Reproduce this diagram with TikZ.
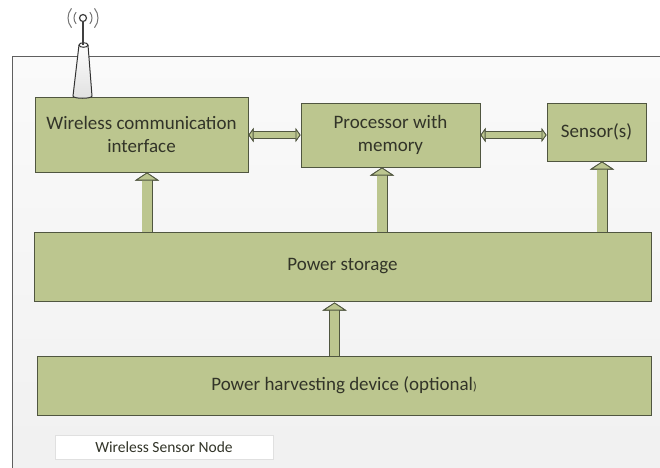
\documentclass[tikz,border=0pt]{standalone}
\usepackage{fontspec}
\setmainfont{Carlito}
\usetikzlibrary{arrows.meta}

\definecolor{boxfill}{RGB}{188,198,143}
\definecolor{boxline}{RGB}{80,86,64}
\definecolor{boxtext}{RGB}{50,52,40}
\definecolor{frametop}{RGB}{250,250,250}
\definecolor{framebot}{RGB}{240,240,240}
\definecolor{frameline}{RGB}{95,95,95}

\begin{document}
\begin{tikzpicture}[x=1pt, y=-1pt,
    block/.style={draw=boxline, line width=1pt, fill=boxfill, text=boxtext,
      align=center, inner sep=0pt, font=\fontsize{19}{23}\selectfont},
    uparr/.style={line width=9.5pt, draw=boxfill,
      -{Triangle[length=8pt, width=24pt, line width=0.8pt, color=boxline, fill=boxfill]},
      preaction={draw=boxline, line width=11pt,
        -{Triangle[length=8pt, width=24pt, line width=0.8pt, color=boxline, fill=boxfill]}}},
    bothway/.style={line width=6pt, draw=boxfill,
      {Triangle[length=5pt, width=14pt, line width=0.8pt, color=boxline, fill=boxfill]}-{Triangle[length=5pt, width=14pt, line width=0.8pt, color=boxline, fill=boxfill]},
      preaction={draw=boxline, line width=7.6pt,
        {Triangle[length=5pt, width=14pt, line width=0.8pt, color=boxline, fill=boxfill]}-{Triangle[length=5pt, width=14pt, line width=0.8pt, color=boxline, fill=boxfill]}}}]

      % Page and outer frame of the sensor node
      \useasboundingbox (0,0) rectangle (660,467);
      \clip (0,0) rectangle (660,467);
      \shade[top color=frametop, bottom color=framebot, draw=frameline, line width=0.8pt]
          (12,56) rectangle (680,490);

      % Blocks
      \node[block, minimum width=213, minimum height=75] (wic) at (141.5,134.5) {Wireless communication\\interface};
      \node[block, minimum width=179, minimum height=64] (proc) at (390.5,135) {Processor with\\memory};
      \node[block, minimum width=99, minimum height=58] (sens) at (596.5,132) {Sensor(s)};
      \node[block, minimum width=617, minimum height=69] (store) at (342.5,266.5) {Power storage};
      \node[block, minimum width=614, minimum height=59] (harv) at (344,385.5)
          {Power harvesting device (optional{\fontsize{12}{12}\selectfont)}};

      % Caption tag
      \node[draw=black!12, fill=white, minimum width=218, minimum height=24, inner sep=0pt,
            text=boxtext, font=\fontsize{15.5}{18}\selectfont] (tag) at (164,447) {Wireless Sensor Node};

      % Antenna on top of the radio block
      \coordinate (mast) at (83,45);
      \coordinate (aerial) at (83,18);
      \shade[top color=white, bottom color=black!12, draw=black!80, line width=1pt]
          (73,96) .. controls (73,99) and (92,99) .. (92,96) -- (88,45)
          .. controls (88,42) and (79,42) .. (79,45) -- cycle;
      \draw[black!80, line width=1pt] (79,45) .. controls (79,48) and (88,48) .. (88,45);
      \draw[black!75, line width=1.2pt] (mast) -- (83,22);
      \draw[black!75, line width=1.2pt] (aerial) circle (3.5);
      \foreach \r in {9, 15} {
          \draw[black!55, line width=1pt] (aerial) ++(140:\r) arc (140:220:\r);
          \draw[black!55, line width=1pt] (aerial) ++(40:\r) arc (40:-40:\r);
      }

      % Data links between the upper blocks
      \draw[bothway] (wic.east |- proc.west) -- (proc.west);
      \draw[bothway] (proc.east) -- (proc.east -| sens.west);

      % Power feeds
      \draw[uparr] ([xshift=5.5]wic.south |- store.north) -- ([xshift=5.5]wic.south);
      \draw[uparr] ([xshift=-8.5]proc.south |- store.north) -- ([xshift=-8.5]proc.south);
      \draw[uparr] ([xshift=5.5]sens.south |- store.north) -- ([xshift=5.5]sens.south);
      \draw[uparr] ([xshift=-9.5]harv.north) -- ([xshift=-9.5,yshift=-1]harv.north |- store.south);

\end{tikzpicture}
\end{document}
